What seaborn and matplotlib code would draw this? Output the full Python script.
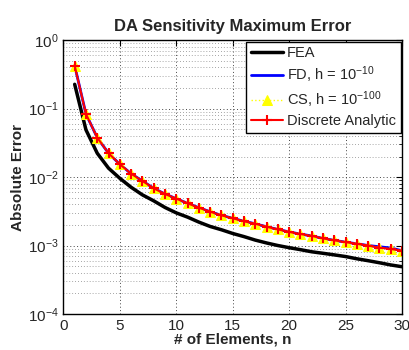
import numpy as np
import pandas as pd
import matplotlib
matplotlib.use("Agg")
import matplotlib.pyplot as plt
import seaborn as sns
from matplotlib.ticker import LogLocator, FixedLocator, NullFormatter

n = list(range(1, 31))
fea = [0.227, 0.049, 0.0223, 0.0135, 0.0096, 0.0071, 0.0055, 0.0045, 0.0036, 0.0030,
       0.0026, 0.0022, 0.0019, 0.0017, 0.0015, 0.00135, 0.0012, 0.00109, 0.00100, 0.00093,
       0.00087, 0.00081, 0.00077, 0.00073, 0.00069, 0.00064, 0.00060, 0.00056, 0.00052, 0.00049]
analytic = [0.425, 0.0835, 0.0377, 0.0223, 0.0154, 0.0112, 0.00877, 0.00686, 0.00566, 0.00484,
            0.00414, 0.00357, 0.00312, 0.00276, 0.0025, 0.00226, 0.00208, 0.00188, 0.00172, 0.00158,
            0.00147, 0.00138, 0.00127, 0.00119, 0.00112, 0.00106, 0.0010, 0.00093, 0.00089, 0.00084]
fd = [0.425, 0.0835, 0.0377, 0.0223, 0.0154, 0.0112, 0.00877, 0.00686, 0.00566, 0.00484,
      0.00414, 0.00357, 0.00312, 0.00276, 0.0025, 0.00226, 0.00208, 0.00188, 0.00172, 0.00158,
      0.00147, 0.00138, 0.00127, 0.00119, 0.00112, 0.00106, 0.0010, 0.00096, 0.00092, 0.00084]
cs = list(analytic)

labels = ["FEA", r"FD, h = $10^{-10}$", r"CS, h = $10^{-100}$", "Discrete Analytic"]

sns.set_style("white")
plt.rcParams['font.family'] = ['Liberation Sans', 'DejaVu Sans']
plt.rcParams['mathtext.fontset'] = 'custom'
plt.rcParams['mathtext.rm'] = 'Liberation Sans'
plt.rcParams['mathtext.it'] = 'Liberation Sans:italic'
plt.rcParams['mathtext.bf'] = 'Liberation Sans:bold'

fig = plt.figure(figsize=(4.09, 3.5), dpi=100)
ax = fig.add_axes([0.155, 0.103, 0.828, 0.782])

df = pd.DataFrame({"n": n, "fea": fea, "fd": fd, "cs": cs, "an": analytic})

sns.lineplot(data=df, x="n", y="fea", ax=ax, color="black", lw=2.5, label=labels[0])
sns.lineplot(data=df, x="n", y="fd", ax=ax, color="blue", lw=2.0, label=labels[1])
sns.lineplot(data=df, x="n", y="cs", ax=ax, color="yellow", lw=1.0, ls=":",
             marker="^", markersize=6.5, markeredgecolor="yellow", label=labels[2])
sns.lineplot(data=df, x="n", y="an", ax=ax, color="red", lw=1.5,
             marker="+", markersize=7, markeredgewidth=1.5, markeredgecolor="red", label=labels[3])

ax.set_yscale("log")
ax.set_xlim(0, 30)
ax.set_ylim(1e-4, 1)
ax.set_xticks([0, 5, 10, 15, 20, 25, 30])
ax.yaxis.set_major_locator(FixedLocator([1e-4, 1e-3, 1e-2, 1e-1, 1]))
ax.yaxis.set_minor_locator(LogLocator(base=10, subs=np.arange(2, 10)))
ax.yaxis.set_minor_formatter(NullFormatter())
ax.set_yticklabels([r"$10^{-4}$", r"$10^{-3}$", r"$10^{-2}$", r"$10^{-1}$", r"$10^{0}$"])

ax.grid(True, which="major", axis="both", ls=(0, (1, 2.5)), color="#444444", lw=0.7)
ax.grid(True, which="minor", axis="y", ls=(0, (1, 2.5)), color="#888888", lw=0.6)
ax.tick_params(direction="in", which="both", top=True, right=True, labelsize=11, length=4, color="black")
ax.tick_params(which="minor", length=2)
for s in ax.spines.values():
    s.set_visible(True)
    s.set_color("black")
    s.set_linewidth(1.0)

ax.set_title("DA Sensitivity Maximum Error", fontsize=12, fontweight="bold", pad=7)
ax.set_xlabel("# of Elements, n", fontsize=11, fontweight="bold", labelpad=0)
ax.set_ylabel("Absolute Error", fontsize=11, fontweight="bold", labelpad=2)

leg = ax.legend(loc="upper right", fontsize=10.5, frameon=True, fancybox=False,
                edgecolor="black", framealpha=1, borderaxespad=0.1, handlelength=2.2,
                handletextpad=0.3, labelspacing=0.3, borderpad=0.3)
leg.get_frame().set_linewidth(1.0)

fig.savefig("out.png", dpi=100)
